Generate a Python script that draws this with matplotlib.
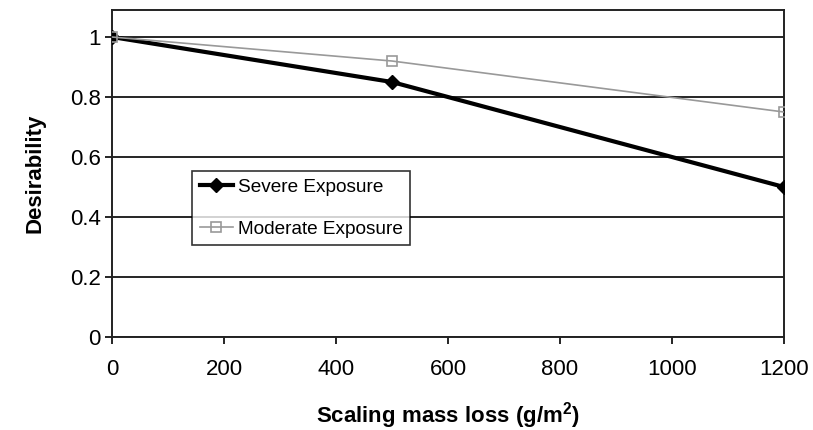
import matplotlib
matplotlib.use("Agg")
import matplotlib.pyplot as plt

plt.rcParams['font.family'] = ['Liberation Sans', 'DejaVu Sans']
plt.rcParams['mathtext.fontset'] = 'custom'
plt.rcParams['mathtext.rm'] = 'Liberation Sans'
plt.rcParams['mathtext.bf'] = 'Liberation Sans:bold'

mass_loss = [0, 500, 1200]
severe = [1.0, 0.85, 0.5]
moderate = [1.0, 0.92, 0.75]
x_ticks = [0, 200, 400, 600, 800, 1000, 1200]
y_ticks = [0, 0.2, 0.4, 0.6, 0.8, 1]
y_labels = ['0', '0.2', '0.4', '0.6', '0.8', '1']

fig = plt.figure(figsize=(8.13, 4.3), dpi=100)
ax = fig.add_axes([0.1378, 0.2163, 0.9643 - 0.1378, 0.9767 - 0.2163])

ax.plot(mass_loss, severe, color='black', lw=3, marker='D', ms=7,
        mfc='black', mec='black', label='Severe Exposure', zorder=3)
ax.plot(mass_loss, moderate, color='#999999', lw=1.2, marker='s', ms=7,
        mfc='none', mec='#999999', mew=1.2, label='Moderate Exposure', zorder=4)

ax.set_xlim(0, 1200)
ax.set_ylim(0, 1.09)
ax.set_xticks(x_ticks)
ax.set_yticks(y_ticks)
ax.set_yticklabels(y_labels)
ax.tick_params(labelsize=16, direction='out', length=5, width=1.2, colors='black')
ax.tick_params(axis='x', pad=11)
ax.tick_params(axis='y', pad=3)
ax.yaxis.grid(True, color='black', lw=1.2)
ax.set_axisbelow(True)
for s in ax.spines.values():
    s.set_linewidth(1.4)
    s.set_color('#222222')

ax.set_xlabel(r'Scaling mass loss (g/m$^\mathbf{2}$)', fontsize=16, fontweight='bold', labelpad=14)
ax.set_ylabel('Desirability', fontsize=16, fontweight='bold', labelpad=18)

# legend box sits inside the plot, left-middle
leg = ax.legend(loc='upper left', bbox_to_anchor=(0.119, 0.508), borderaxespad=0,
                fontsize=13.7, frameon=True, fancybox=False, edgecolor='black',
                handlelength=1.75, handletextpad=0.25, borderpad=0.4, labelspacing=1.3)
leg.get_frame().set_linewidth(1.2)

fig.savefig('out.png', dpi=100)
